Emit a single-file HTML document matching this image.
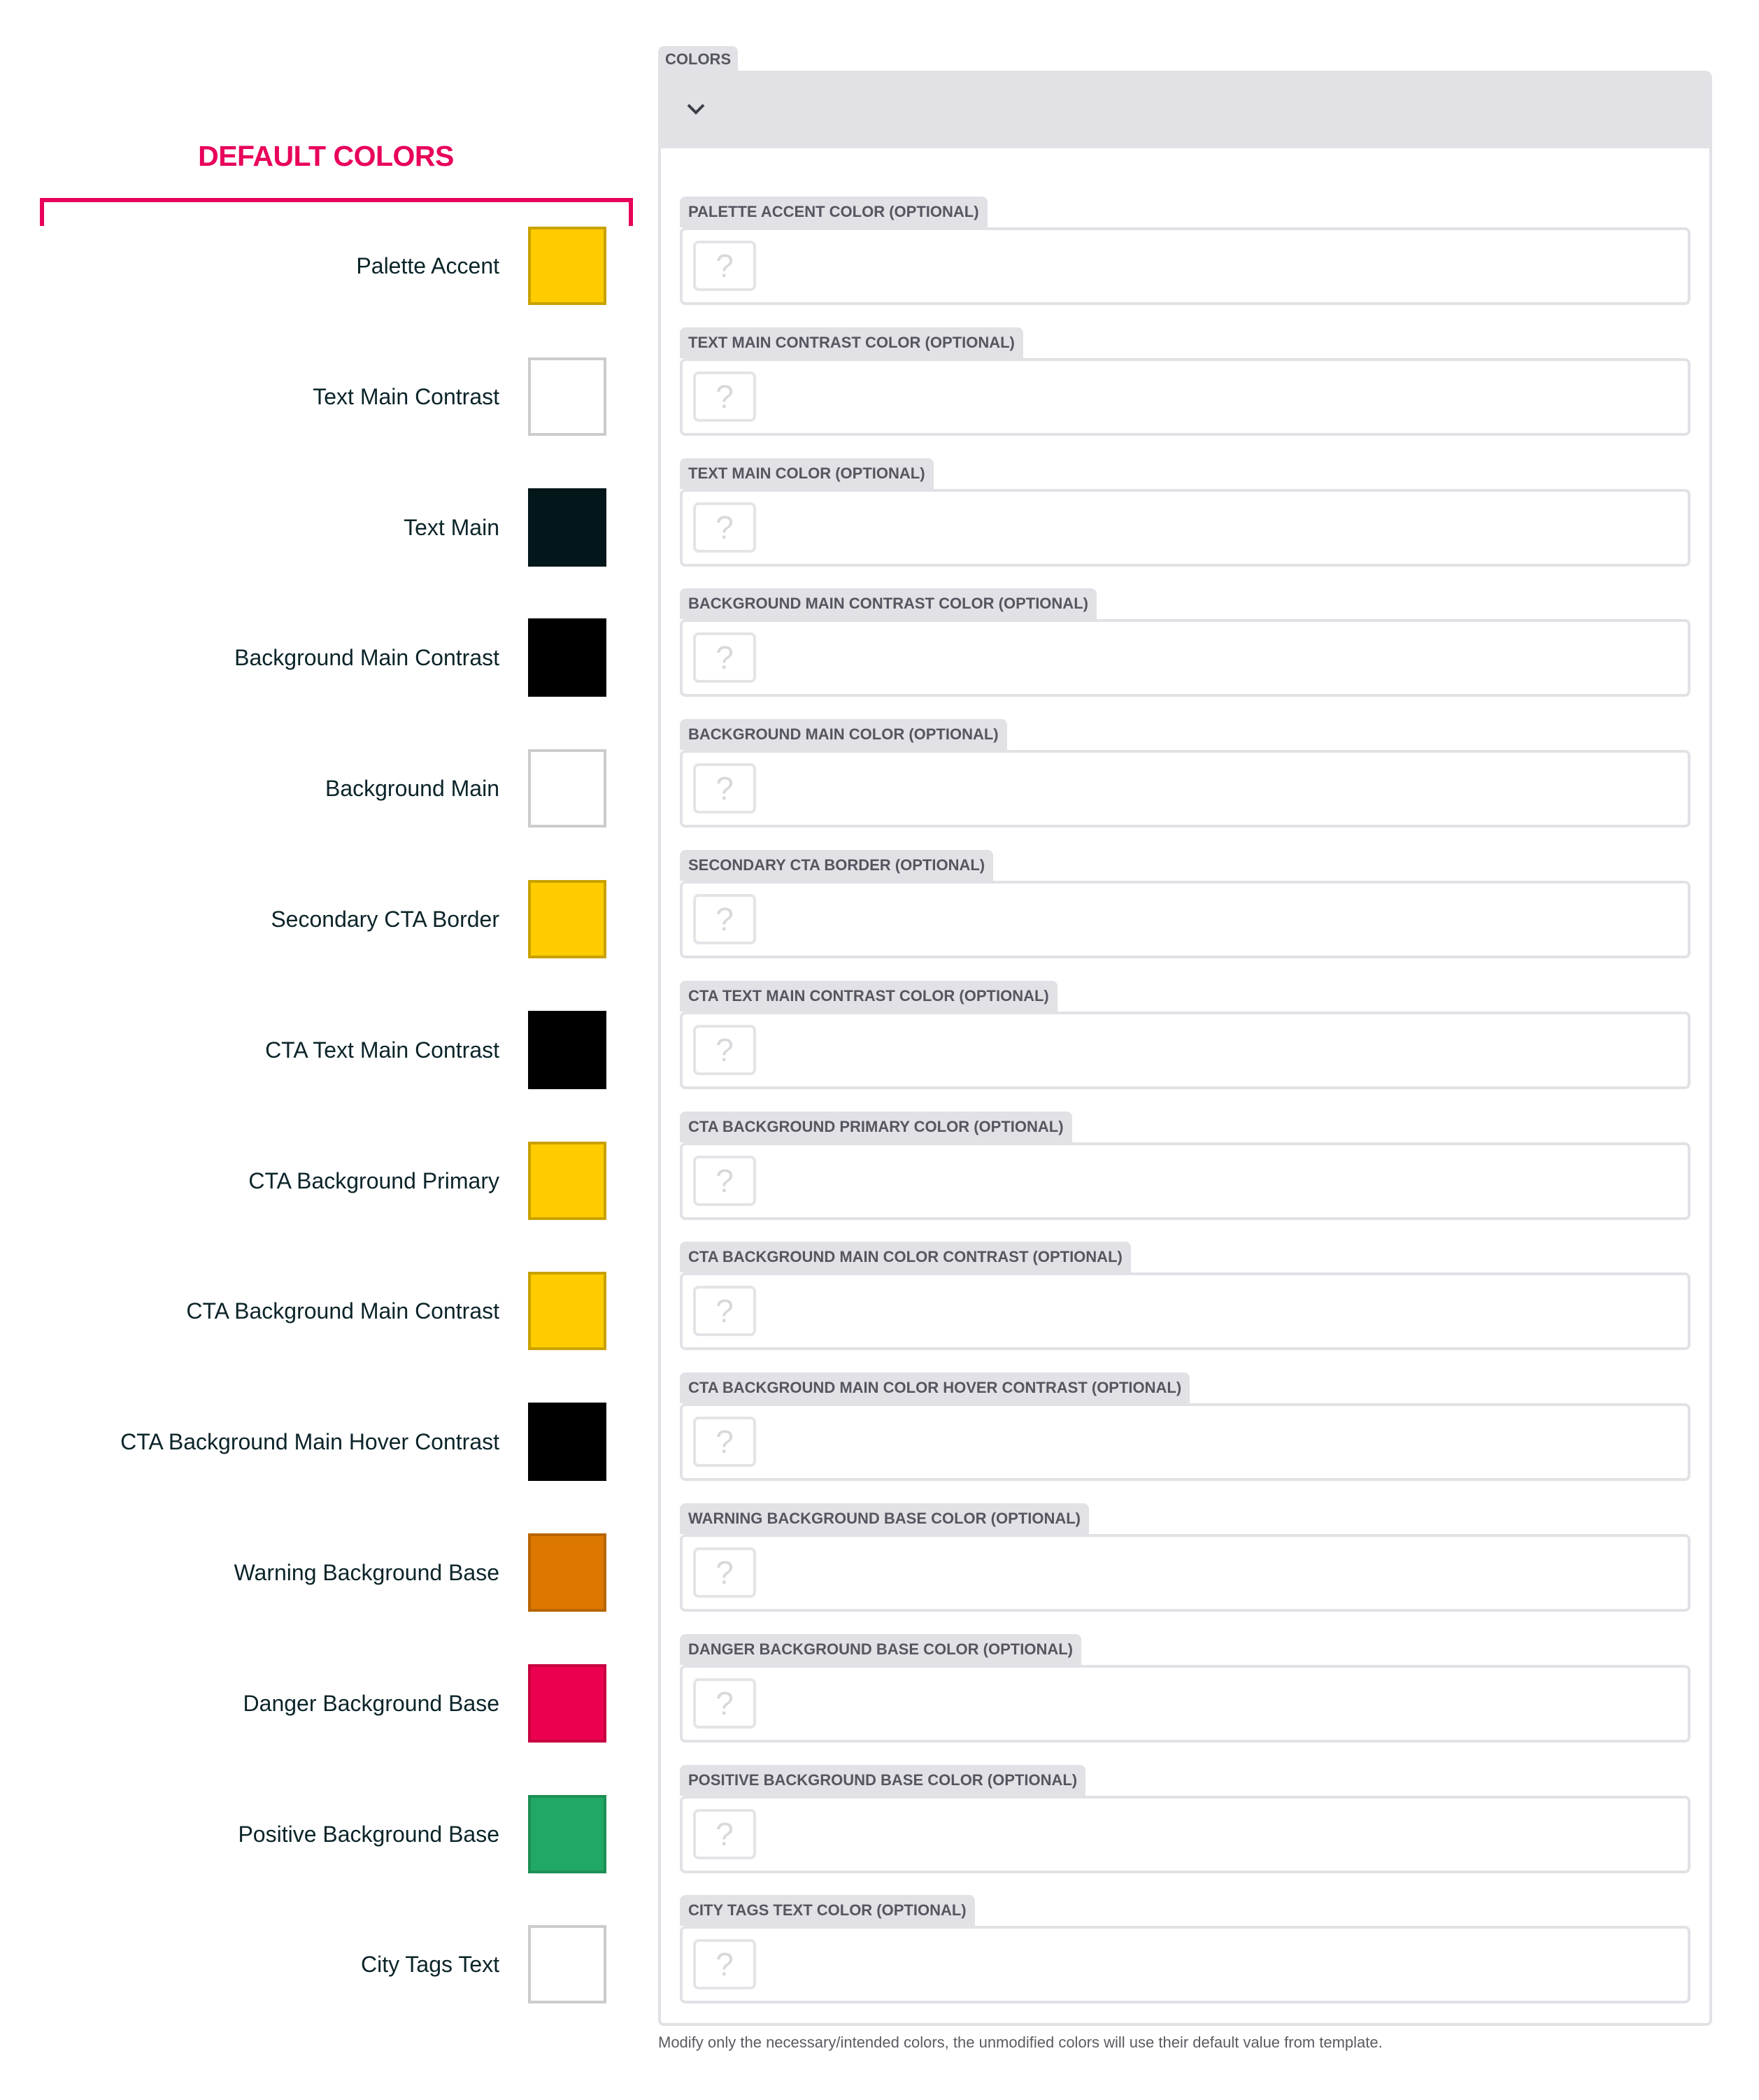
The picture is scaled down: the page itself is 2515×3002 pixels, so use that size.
<!DOCTYPE html>
<html><head><meta charset="utf-8">
<style>
html,body{margin:0;padding:0;background:#fff;}
body{width:2515px;height:3002px;position:relative;overflow:hidden;font-family:"Liberation Sans",sans-serif;}
.abs{position:absolute;box-sizing:border-box;}
.title{left:0;width:932px;top:200px;text-align:center;color:#e8005a;font-weight:bold;font-size:41px;letter-spacing:-0.5px;}
.bracket{left:57px;top:283px;width:848px;height:40px;border:6px solid #e8005a;border-bottom:none;}
.lbl{left:0;width:714px;text-align:right;font-size:32px;color:#0b2429;line-height:40px;}
.sw{left:755px;width:112px;height:112px;border:4px solid transparent;}
.tab{background:#e1e1e6;color:#55565f;font-weight:bold;font-size:22px;border-radius:8px 8px 0 0;padding:0 12px;line-height:44px;height:44px;white-space:nowrap;}
.box{left:972px;width:1445px;height:111px;border:4px solid #e1e1e6;border-radius:8px;background:#fff;}
.q{left:15px;top:15px;width:90px;height:72px;border:4px solid #e4e4e8;border-radius:8px;color:#d8d8dc;font-size:46px;text-align:center;line-height:64px;}
</style></head>
<body>
<div class="abs title">DEFAULT COLORS</div>
<div class="abs bracket"></div>

<div class="abs tab" style="left:941px;top:66px;height:40px;line-height:38px;padding:0 10px;">COLORS</div>
<div class="abs" style="left:941px;top:101px;width:1507px;height:111px;background:#e1e1e6;border-radius:0 10px 0 0;">
  <svg class="abs" style="left:40px;top:45px" width="28" height="20" viewBox="0 0 28 20"><polyline points="3,4 14,15 25,4" fill="none" stroke="#3d3f48" stroke-width="4"/></svg>
</div>
<div class="abs" style="left:941px;top:210px;width:1507px;height:2686px;border:4px solid #e1e1e6;border-top:none;border-radius:0 0 8px 8px;"></div>
<div class="abs" style="left:941px;top:2906px;font-size:22px;color:#5a5b63;line-height:28px;">Modify only the necessary/intended colors, the unmodified colors will use their default value from template.</div>

<div id="rows"></div>
<script>
const labels=["Palette Accent","Text Main Contrast","Text Main","Background Main Contrast","Background Main","Secondary CTA Border","CTA Text Main Contrast","CTA Background Primary","CTA Background Main Contrast","CTA Background Main Hover Contrast","Warning Background Base","Danger Background Base","Positive Background Base","City Tags Text"];
const fills=["#ffcc00","#ffffff","#03161a","#000000","#ffffff","#ffcc00","#000000","#ffcc00","#ffcc00","#000000","#dc7800","#eb0050","#22a866","#ffffff"];
const borders=["#c9a200","#cccccc","#03161a","#000000","#cccccc","#c9a200","#000000","#c9a200","#c9a200","#000000","#b86400","#c8003f","#1c8f55","#cccccc"];
const fieldLabels=["PALETTE ACCENT COLOR (OPTIONAL)","TEXT MAIN CONTRAST COLOR (OPTIONAL)","TEXT MAIN COLOR (OPTIONAL)","BACKGROUND MAIN CONTRAST COLOR (OPTIONAL)","BACKGROUND MAIN COLOR (OPTIONAL)","SECONDARY CTA BORDER (OPTIONAL)","CTA TEXT MAIN CONTRAST COLOR (OPTIONAL)","CTA BACKGROUND PRIMARY COLOR (OPTIONAL)","CTA BACKGROUND MAIN COLOR CONTRAST (OPTIONAL)","CTA BACKGROUND MAIN COLOR HOVER CONTRAST (OPTIONAL)","WARNING BACKGROUND BASE COLOR (OPTIONAL)","DANGER BACKGROUND BASE COLOR (OPTIONAL)","POSITIVE BACKGROUND BASE COLOR (OPTIONAL)","CITY TAGS TEXT COLOR (OPTIONAL)"];
const root=document.getElementById('rows');
const step=186.8;
for(let i=0;i<labels.length;i++){
  const y0=324+i*step;
  const l=document.createElement('div');l.className='abs lbl';l.style.top=(y0+36)+'px';l.textContent=labels[i];
  
  
  root.appendChild(l);
  const s=document.createElement('div');s.className='abs sw';s.style.top=y0+'px';s.style.background=fills[i];s.style.borderColor=borders[i];
  
  
  root.appendChild(s);
  const fy=281+i*step;
  const t=document.createElement('div');t.className='abs tab';t.style.left='972px';t.style.top=fy+'px';t.textContent=fieldLabels[i];
  
  
  root.appendChild(t);
  const b=document.createElement('div');b.className='abs box';b.style.top=(fy+44)+'px';
  
  
  const q=document.createElement('div');q.className='abs q';q.textContent='?';
  
  
  b.appendChild(q);
  root.appendChild(b);
}
</script>
</body></html>
